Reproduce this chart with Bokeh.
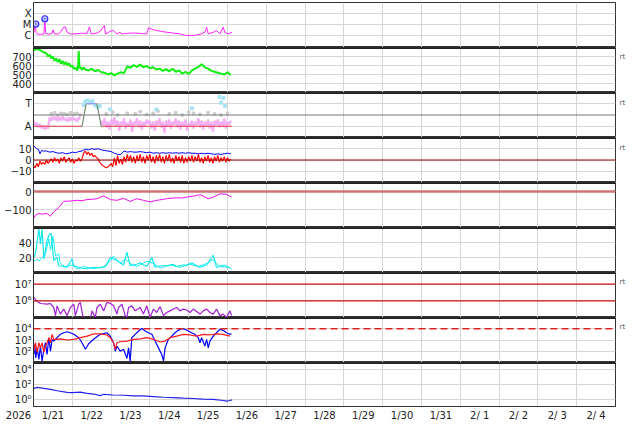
from bokeh.plotting import figure
from bokeh.models import Range1d, FixedTicker, Span, LinearAxis, AllLabels
from bokeh.layouts import column
from bokeh.embed import file_html
from bokeh.resources import INLINE

# ---------------- data (time in hours after 2026-01-21 00:00) ----------------
DAY_LABELS = ["1/21", "1/22", "1/23", "1/24", "1/25", "1/26", "1/27", "1/28",
              "1/29", "1/30", "1/31", "2/ 1", "2/ 2", "2/ 3", "2/ 4"]
YEAR_LABEL = "2026"

xray_t = [0.0, 0.8, 1.2, 1.6, 2.3, 4.3, 6.4, 7.0, 7.6, 9.5, 11.5, 12.1, 13.0, 15.6, 17.1,
          18.7, 19.7, 20.8, 22.8, 24.9, 29.0, 33.1, 34.7, 35.6, 39.3, 41.3, 43.8, 44.6, 47.5,
          49.5, 51.6, 53.6, 54.7, 57.8, 61.9, 66.0, 70.1, 71.1, 74.2, 78.3, 82.4, 86.5, 90.6,
          94.7, 98.8, 103.0, 106.0, 107.1, 108.1, 111.2, 113.2, 115.3, 117.3, 118.4, 120.4, 122.9]
xray_v = [1.4e-6, 6.8e-6, 1.0e-5, 2.0e-6, 1.4e-6, 1.3e-6, 1.4e-6, 3.2e-5, 1.6e-6, 1.3e-6,
          1.6e-6, 3.4e-6, 1.4e-6, 1.4e-6, 2.5e-6, 5.8e-6, 6.3e-6, 2.0e-6, 1.4e-6, 1.4e-6,
          1.6e-6, 1.6e-6, 6.3e-6, 1.4e-6, 1.7e-6, 2.5e-6, 8.3e-6, 1.4e-6, 2.5e-6, 2.9e-6,
          1.4e-6, 2.0e-6, 1.4e-6, 1.6e-6, 1.7e-6, 1.6e-6, 1.4e-6, 5.1e-6, 3.4e-6, 2.5e-6,
          2.0e-6, 1.7e-6, 1.4e-6, 1.0e-6, 1.0e-6, 1.3e-6, 2.0e-6, 5.8e-6, 1.4e-6, 2.0e-6,
          2.9e-6, 1.4e-6, 5.8e-6, 2.0e-6, 1.4e-6, 2.0e-6]
flare_t = [1.4, 7.0]
flare_v = [1.15e-5, 3.5e-5]
XRAY_TICKS = [1e-6, 1e-5, 1e-4]
XRAY_LABELS = ["C", "M", "X"]

wind_t = [0, 2, 4, 6, 8, 9, 10, 11, 12, 13, 14, 15, 16, 17, 18, 19, 20, 21, 22, 23, 24, 25,
          26, 27, 27.6, 28, 28.4, 29, 30, 31, 32, 34, 36, 38, 40, 42, 44, 46, 48, 50, 52, 54,
          56, 58, 60, 62, 64, 66, 68, 70, 72, 74, 76, 78, 80, 82, 84, 86, 88, 90, 92, 94, 96,
          98, 100, 102, 104, 106, 108, 110, 112, 114, 116, 118, 120, 122]
wind_v = [765, 785, 770, 750, 735, 700, 720, 680, 700, 650, 680, 640, 670, 620, 650, 610, 640,
          600, 625, 585, 600, 560, 575, 545, 600, 760, 570, 585, 550, 580, 555, 545, 565, 535,
          550, 525, 520, 500, 515, 490, 510, 525, 515, 590, 575, 605, 585, 610, 580, 595, 570,
          580, 555, 565, 540, 560, 535, 565, 530, 545, 510, 530, 505, 545, 565, 585, 615, 580,
          565, 540, 530, 520, 510, 500, 525, 495]
WIND_TICKS = [400, 500, 600, 700]

pink_t = list(range(0, 30)) + list(range(42, 123))
pink_v = [-0.5, -0.9, -0.7, -1.1, -0.8, -1.2, -0.9, -1.3, -1.0, -1.2,
          -0.2, -0.5, -0.1, -0.45, -0.15, -0.55, -0.2, -0.5, -0.1, -0.45,
          -0.25, -0.6, -0.2, -0.5, -0.15, -0.45, -0.3, -0.6, -0.2, -0.4,
          -0.5, -0.9, -0.3, -1.1, -0.6, -1.3, -0.4, -0.9, -0.2, -1.0,
          -0.5, -1.4, -0.6, -0.9, -0.3, -1.2, -0.7, -1.0, -0.4, -1.5,
          -0.6, -0.9, -0.3, -1.1, -0.5, -1.3, -0.6, -1.0, -0.4, -0.8,
          -0.5, -1.2, -0.6, -1.4, -0.5, -0.9, -0.3, -1.1, -0.6, -1.6,
          -0.5, -1.0, -0.4, -1.2, -0.6, -0.9, -0.3, -1.1, -0.5, -1.3,
          -0.6, -1.0, -0.4, -1.4, -0.7, -1.0, -0.5, -1.2, -0.6, -0.9,
          -0.3, -1.1, -0.5, -1.3, -0.6, -1.0, -0.4, -1.2, -0.6, -1.5,
          -0.5, -0.9, -0.4, -1.1, -0.6, -1.0, -0.3, -1.2, -0.6, -0.9,
          -0.5]
gray_t = [11, 13, 15, 17, 19, 21, 23, 25, 27, 29, 45, 49, 52, 58, 63, 66, 70, 74, 77, 84,
          88, 92, 96, 99, 103, 108, 112, 116, 120]
gray_v = [0.1, 0.2, 0.0, 0.15, 0.1, 0.05, 0.2, 0.1, 0.15, 0.0, 0.1, 0.25, 0.0, 0.15, 0.1,
          0.3, 0.05, 0.15, 0.35, 0.1, 0.2, 0.0, 0.25, 0.15, 0.05, 0.2, 0.1, 0.0, 0.15]
lblue_t = [31, 32, 33.5, 35, 36.5, 38, 39.5, 41, 47.5, 76, 98, 115, 116, 117.5, 118.5]
lblue_v = [0.9, 1.2, 1.3, 1.1, 1.25, 0.9, 0.7, 0.8, 0.5, 0.5, 0.6, 1.6, 1.1, 1.5, 0.8]
sector_t = [0, 30, 32.6, 39.2, 41.9, 122.9]
sector_v = [-1, -1, 1, 1, -1, -1]
SECTOR_TICKS = [-1, 1]
SECTOR_LABELS = ["A", "T"]

bt_t = [0, 1, 2, 3, 4, 5, 6, 8, 10, 12, 14, 16, 18, 20, 22, 24, 26, 28, 30, 32, 34, 36, 38,
        40, 42, 44, 46, 48, 50, 52, 54, 56, 58, 60, 62, 64, 66, 68, 70, 72, 74, 76, 78, 80,
        82, 84, 86, 88, 90, 92, 94, 96, 98, 100, 102, 104, 106, 108, 110, 112, 114, 116,
        118, 120, 122]
bt_v = [13, 11.5, 10, 9.5, 5.5, 8.5, 8, 8, 7, 7.5, 6.5, 6, 6.5, 5.5, 6, 7, 6.5, 7.5, 8, 9.5,
        9, 10, 9.5, 10, 9, 8.5, 8, 7.5, 6, 5, 5, 8, 7, 7.5, 7, 7, 7.5, 7, 6.5, 7, 6, 6.5, 6,
        6.5, 6, 6.5, 6, 6.5, 6, 6.5, 6, 6.5, 6, 6, 5.5, 6, 5.5, 6, 5.5, 5, 5.5, 5, 5.5, 6, 5.5]
bz_t = list(range(0, 123))
bz_v = [-5, -7, -3, -6, -1, -4, -2, -4, 0, -3,
        -1, 1, -2, 2, -1, 1, -3, 2, -1, 3,
        -2, 0, 2, -2, 1, -3, 0, -1, 2, -1,
        1, 6, 8, 5, 7, 4, 6, 3, 4, 2,
        1, -2, -4, -5, -6, -7, -6, -5, -3, -6,
        2, -5, 4, -3, 1, -4, 3, -2, 5, -1,
        4, -2, 3, -3, 4, -1, 5, -2, 3, -3,
        4, 0, 5, -2, 3, -3, 4, -1, 5, -2,
        3, -3, 4, -1, 5, -2, 2, -3, 4, -1,
        3, -2, 4, -3, 2, -2, 3, -1, 4, -2,
        3, -1, 5, -2, 2, -3, 3, -1, 4, -2,
        2, -3, 3, -1, 4, -2, 2, -1, 3, -2,
        2, -1, 1]
IMF_TICKS = [-10, 0, 10]
IMF_LABELS = ["\u221210", "0", "10"]

dst_t = [0.2, 1.2, 3.3, 5.3, 8.4, 10.5, 12.5, 15.6, 18.7, 22.8, 26.9, 30.0, 33.1, 36.2, 39.3,
         43.4, 47.5, 51.6, 55.7, 59.8, 63.9, 68.0, 72.1, 76.2, 79.3, 82.4, 85.5, 88.6, 91.7,
         94.7, 98.8, 103.0, 106.0, 108.1, 111.2, 115.3, 119.4, 122.5]
dst_v = [-149, -131, -122, -126, -122, -137, -113, -89, -55, -53, -49, -51, -45, -43, -40,
         -24, -45, -49, -38, -55, -40, -49, -58, -49, -45, -40, -37, -35, -36, -31, -26, -18,
         -30, -40, -31, -13, -16, -31]
DST_TICKS = [-100, 0]
DST_LABELS = ["\u2212100", "0"]

cy1_t = [0.2, 1.2, 3.3, 4.3, 5.3, 6.4, 8.4, 10.1, 10.9, 12.5, 14.6, 15.6, 18.7, 20.8, 23.8,
         24.9, 29.0, 33.1, 37.2, 41.3, 44.6, 47.5, 51.6, 55.7, 57.8, 59.8, 63.9, 66.0, 70.1,
         73.2, 75.2, 78.3, 82.4, 86.5, 88.6, 92.7, 94.7, 97.8, 100.9, 103.0, 107.1, 111.2,
         113.2, 117.3, 121.5]
cy1_v = [20, 25, 58, 38, 58, 18, 43, 52, 52, 16, 20, 9, 8, 7, 18, 9, 6, 5, 7, 6, 8, 20, 16,
         10, 27, 9, 11, 13, 8, 20, 7, 9, 9, 11, 8, 10, 10, 13, 9, 7, 10, 23, 7, 8, 6]
cy2_t = [0.2, 2.3, 3.3, 5.3, 7.4, 9.5, 10.5, 12.1, 13.6, 15.6, 16.6, 19.7, 23.8, 26.9, 31.0,
         37.2, 43.4, 47.5, 49.5, 53.6, 56.7, 59.8, 63.9, 70.1, 74.2, 78.3, 84.5, 90.6, 96.8,
         101.9, 107.1, 111.2, 114.3, 118.4, 122.5]
cy2_v = [15, 18, 15, 20, 25, 45, 30, 48, 22, 25, 12, 8, 10, 5, 8, 5, 8, 15, 22, 12, 18, 12, 8,
         15, 12, 6, 10, 7, 11, 8, 12, 17, 9, 10, 5]
CY_TICKS = [20, 40]

pu_t = [0.2, 2.3, 4.3, 8.4, 10.5, 12.5, 13.6, 14.6, 16.6, 18.7, 20.8, 22.8, 24.9, 25.9, 28.0,
        29.0, 30.6, 32.1, 35.1, 36.2, 38.2, 39.3, 41.3, 43.4, 45.4, 47.5, 49.5, 51.6, 52.6,
        54.7, 56.7, 57.8, 58.8, 60.8, 62.9, 66.0, 68.0, 70.1, 72.1, 74.2, 76.2, 78.3, 80.4,
        82.4, 84.5, 86.5, 88.6, 90.6, 92.7, 94.7, 96.8, 98.8, 103.0, 105.0, 107.1, 109.1,
        111.2, 113.2, 115.3, 117.3, 119.4, 121.5, 122.5]
pu_v = [1.6e6, 9.1e5, 6.9e5, 6.3e5, 6.9e5, 4.0e5, 1.3e5, 5.0e5, 1.6e5, 3.2e5,
        1.3e5, 4.0e5, 6.3e5, 1.3e5, 6.3e5, 7.9e5, 1.1e5, 7.9e4, 7.9e4, 2.5e5,
        1.0e5, 4.0e5, 6.3e5, 2.5e5, 7.9e5, 7.1e5, 5.0e5, 1.6e5, 4.0e5, 6.3e5,
        1.3e5, 1.0e5, 4.0e5, 5.0e5, 2.5e5, 4.0e5, 1.6e5, 5.0e5, 1.0e5, 3.2e5,
        2.0e5, 4.5e5, 1.3e5, 2.0e5, 2.5e5, 3.2e5, 4.0e5, 2.5e5, 3.2e5, 2.8e5,
        2.0e5, 3.2e5, 1.6e5, 2.5e5, 3.2e5, 2.0e5, 1.6e5, 3.2e5, 1.3e5, 1.6e5,
        1.0e5, 2.5e5, 1.3e5]
PU_LEVELS = [1e6, 1e7]
PU_TICKS = [1e6, 1e7]
PU_LABELS = ["10\u2076", "10\u2077"]

hb_t = [0.2, 0.8, 1.4, 2.3, 3.3, 4.3, 5.3, 6.4, 7.4, 8.4, 9.5, 10.5, 11.5, 12.5, 14.6, 16.6,
        18.7, 20.8, 22.8, 24.9, 28.0, 30.0, 32.1, 34.1, 37.2, 41.3, 45.4, 47.5, 49.5, 50.6,
        51.6, 53.6, 55.7, 57.8, 58.8, 59.8, 60.8, 62.9, 65.0, 67.0, 69.1, 71.1, 73.2, 75.2,
        77.3, 79.3, 80.4, 81.4, 83.4, 85.5, 87.5, 89.6, 91.7, 93.7, 95.8, 97.8, 99.9, 101.9,
        103.0, 104.0, 106.0, 107.1, 108.1, 109.1, 111.2, 113.2, 115.3, 117.3, 119.4, 121.5,
        122.5]
hb_v = [52, 400, 26, 200, 19, 290, 13, 150, 575, 52, 1600, 100, 1150, 800, 1600, 3200, 4400,
        5400, 4400, 3200, 1600, 575, 150, 470, 1150, 3200, 4400, 2200, 575, 100, 290, 100,
        150, 23, 200, 13, 1600, 3200, 6300, 10700, 6300, 4400, 3200, 800, 200, 52, 14, 200,
        1150, 2200, 4400, 7200, 10700, 8900, 6300, 4400, 3200, 1600, 575, 1600, 290, 1150,
        200, 800, 2200, 4400, 8900, 7200, 4400, 3200, 3600]
hr_t = [0.2, 1.2, 2.3, 3.3, 4.3, 5.3, 6.4, 7.4, 8.4, 9.5, 10.5, 11.5, 12.5, 14.6, 16.6, 18.7,
        20.8, 24.9, 29.0, 33.1, 37.2, 41.3, 45.4, 47.5, 49.5, 50.6, 51.6, 53.6, 57.8, 61.9,
        66.0, 70.1, 74.2, 78.3, 81.4, 84.5, 88.6, 92.7, 96.8, 100.9, 105.0, 109.1, 113.2,
        117.3, 121.5]
hr_v = [100, 575, 80, 575, 200, 575, 80, 290, 575, 1600, 575, 3200, 1150, 1150, 1260, 1150,
        1000, 1150, 1600, 2200, 3500, 3500, 2800, 1600, 575, 150, 575, 700, 800, 1150, 1260,
        1600, 1150, 660, 800, 1600, 2200, 3200, 2800, 2200, 3200, 2800, 3500, 3200, 2200]
H_LEVEL = 1e4
H_TICKS = [1e2, 1e3, 1e4]
H_LABELS = ["10\u00b2", "10\u00b3", "10\u2074"]

p9_t = [0.2, 2.3, 6.4, 10.5, 14.6, 20.8, 23.8, 29.0, 33.1, 37.2, 41.3, 43.4, 49.5, 55.7, 61.9,
        68.0, 74.2, 80.4, 86.5, 92.7, 98.8, 105.0, 111.2, 117.3, 119.4, 121.5, 122.9]
p9_v = [29.5, 40, 29.5, 21.4, 14.1, 8.5, 7.9, 9.3, 6.3, 5.0, 3.0, 4.6, 3.7, 3.4, 2.75, 2.75,
        2.24, 1.82, 1.66, 1.35, 1.23, 1.0, 0.91, 0.66, 0.54, 0.66, 0.79]
P9_TICKS = [1, 1e2, 1e4]
P9_LABELS = ["10\u2070", "10\u00b2", "10\u2074"]

# ---------------- layout ----------------
FONT = "DejaVu Sans"
W = 628
BL = 33
BR = 11
FH = 45
TOP = 2
BOTTOM = 16
GRID = "#d6d6d6"
HOURS = 360

xr = Range1d(0, HOURS)
day_edges = [24 * i for i in range(1, 15)]
day_mid = [24 * i + 12 for i in range(15)]


def panel(y_range, ticks, labels, log=False, top=False, bottom=False, fsize="10px"):
    h = FH + (TOP if top else 0) + (BOTTOM if bottom else 0)
    p = figure(width=W, height=h, x_range=xr, y_range=y_range,
               y_axis_type="log" if log else "linear",
               x_axis_location="below" if bottom else None,
               output_backend="svg", toolbar_location=None, title=None,
               min_border_left=BL, min_border_right=BR,
               min_border_top=TOP if top else 0,
               min_border_bottom=BOTTOM if bottom else 0)
    p.background_fill_color = "white"
    p.border_fill_color = "white"
    p.outline_line_color = "#333333"
    p.outline_line_width = 1
    p.xgrid.ticker = FixedTicker(ticks=day_edges)
    p.xgrid.grid_line_color = GRID
    ax = p.yaxis[0]
    ax.ticker = FixedTicker(ticks=ticks, minor_ticks=[])
    ax.major_label_overrides = dict(zip(ticks, labels))
    ax.major_tick_line_color = None
    ax.minor_tick_line_color = None
    ax.major_tick_out = 0
    ax.major_label_standoff = 2
    ax.major_label_text_font = FONT
    ax.major_label_text_font_size = fsize
    ax.major_label_text_color = "#222222"
    ax.axis_line_color = "#333333"
    p.ygrid.ticker = FixedTicker(ticks=ticks)
    p.ygrid.grid_line_color = GRID
    if not top:
        p.add_layout(Span(location=y_range.end, dimension="width",
                          line_color="#222222", line_width=3))
    if bottom:
        xa = p.xaxis[0]
        xticks = [0] + day_mid
        xa.ticker = FixedTicker(ticks=xticks, minor_ticks=[])
        xa.major_label_overrides = dict(zip(xticks, [YEAR_LABEL + "\u2003" * 3] + DAY_LABELS))
        xa.major_label_policy = AllLabels()
        xa.major_tick_line_color = None
        xa.minor_tick_line_color = None
        xa.major_tick_out = 0
        xa.major_label_standoff = 3
        xa.major_label_text_font = FONT
        xa.major_label_text_font_size = "10px"
        xa.major_label_text_color = "#222222"
        xa.axis_line_color = "#333333"
    return p


def rt_axis(p, yval):
    ax = LinearAxis(ticker=FixedTicker(ticks=[yval], minor_ticks=[]),
                    major_label_overrides={yval: "rt"})
    ax.axis_line_color = None
    ax.major_tick_line_color = None
    ax.minor_tick_line_color = None
    ax.major_tick_out = 0
    ax.major_label_standoff = 4
    ax.major_label_text_font = FONT
    ax.major_label_text_font_size = "7px"
    ax.major_label_text_color = "#555555"
    p.add_layout(ax, "right")


# 1: X-ray flux
p1 = panel(Range1d(10 ** -7.1, 10 ** -2.96), XRAY_TICKS, XRAY_LABELS, log=True, top=True)
p1.line(xray_t, xray_v, line_color="#ff22ff", line_width=1)
p1.scatter(flare_t, flare_v, marker="circle_dot", size=6, line_color="#2a2aff",
           fill_color="#c8c8ff", line_width=1.2)

# 2: solar wind speed
p2 = panel(Range1d(300, 800), WIND_TICKS, [str(v) for v in WIND_TICKS])
p2.line(wind_t, wind_v, line_color="#11ee11", line_width=2)
rt_axis(p2, 689)

# 3: sector (T / A)
p3 = panel(Range1d(-2, 2), SECTOR_TICKS, SECTOR_LABELS)
p3.add_layout(Span(location=0, dimension="width", line_color="#777777", line_width=1))
p3.scatter(gray_t, gray_v, marker="square", size=2.5, color="#cccccc")
p3.line(pink_t[:30], pink_v[:30], line_color="#f4aef4", line_width=2.2)
p3.line(pink_t[30:], pink_v[30:], line_color="#f4aef4", line_width=2.2)
p3.scatter(lblue_t, lblue_v, marker="square", size=3, color="#a8e2f4")
for i in range(len(sector_t) - 1):
    a, b = sector_v[i], sector_v[i + 1]
    if a == b == SECTOR_TICKS[0]:
        col = "#e04040"
    elif a == b == SECTOR_TICKS[1]:
        col = "#8a8af0"
    else:
        col = "#6f8a6f"
    p3.line(sector_t[i:i + 2], sector_v[i:i + 2], line_color=col, line_width=1.2)
rt_axis(p3, 1.11)

# 4: IMF Bt / Bz
p4 = panel(Range1d(-20, 20), IMF_TICKS, IMF_LABELS)
p4.add_layout(Span(location=0, dimension="width", line_color="#990000", line_width=1))
p4.line(bt_t, bt_v, line_color="#0000ff", line_width=1)
p4.line(bz_t, bz_v, line_color="#ff0000", line_width=1.2)
rt_axis(p4, 11.1)

# 5: Dst
p5 = panel(Range1d(-200, 50), DST_TICKS, DST_LABELS)
p5.add_layout(Span(location=0, dimension="width", line_color="#cc7474", line_width=2.5))
p5.line(dst_t, dst_v, line_color="#ee11ee", line_width=1)

# 6: cyan
p6 = panel(Range1d(0, 60), CY_TICKS, [str(v) for v in CY_TICKS])
p6.line(cy2_t, cy2_v, line_color="#22eeee", line_width=1)
p6.line(cy1_t, cy1_v, line_color="#11e8ee", line_width=1.2)

# 7: purple (log)
p7 = panel(Range1d(1e5, 5e7), PU_TICKS, PU_LABELS, log=True)
for lv in PU_LEVELS:
    p7.add_layout(Span(location=lv, dimension="width", line_color="#cc1111", line_width=1.2))
p7.line(pu_t, pu_v, line_color="#a020d0", line_width=1.2)
rt_axis(p7, 1.26e7)

# 8: blue/red (log)
p8 = panel(Range1d(10, 1e5), H_TICKS, H_LABELS, log=True)
p8.add_layout(Span(location=H_LEVEL, dimension="width", line_color="#dd2222",
                   line_width=1.5, line_dash="7 4"))
p8.line(hb_t, hb_v, line_color="#0000ff", line_width=1.2)
p8.line(hr_t, hr_v, line_color="#ff1a1a", line_width=1.2)
rt_axis(p8, 1.3e4)

# 9: blue (log) with time axis
p9 = panel(Range1d(0.1, 1e5), P9_TICKS, P9_LABELS, log=True, bottom=True)
p9.line(p9_t, p9_v, line_color="#2222ee", line_width=1.2)

layout = column(p1, p2, p3, p4, p5, p6, p7, p8, p9, spacing=0)
open("out.html", "w").write(file_html(layout, INLINE))
